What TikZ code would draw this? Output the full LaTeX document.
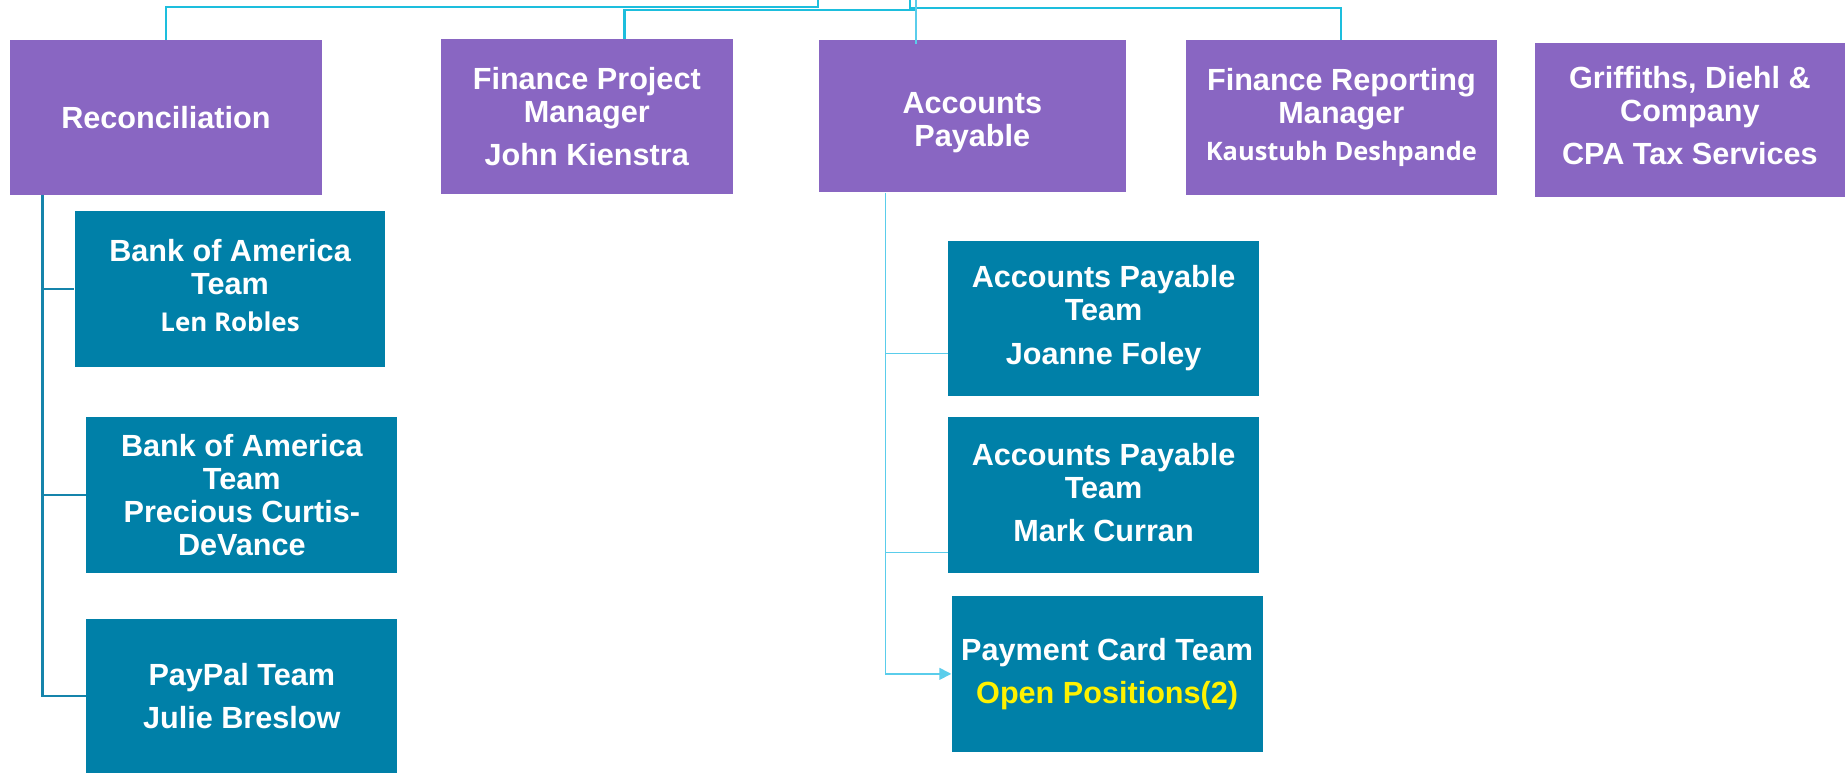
\documentclass[tikz,border=0pt]{standalone}
\usepackage{fontspec}
\setmainfont{Liberation Sans}
\newfontfamily\namefont{Open Sans}
\usetikzlibrary{arrows.meta,positioning}

\definecolor{boxpurple}{RGB}{137,102,194}
\definecolor{boxteal}{RGB}{0,128,168}
\definecolor{linecyan}{RGB}{29,190,221}
\definecolor{linelight}{RGB}{90,205,235}
\definecolor{lineteal}{RGB}{21,132,171}

\begin{document}
\begin{tikzpicture}[x=0.5pt,y=-0.5pt]

\tikzset{purplebox/.style={fill=boxpurple,draw=none,inner sep=0pt,minimum width=132pt,minimum height=65.5pt,shape=rectangle,
  text=white,align=center,font=\bfseries\fontsize{13}{14}\selectfont,anchor=north west},
tealbox/.style={fill=boxteal,draw=none,inner sep=0pt,minimum width=132pt,minimum height=66pt,shape=rectangle,
  text=white,align=center,font=\bfseries\fontsize{13}{14}\selectfont,anchor=north west},
topline/.style={draw=linecyan,line width=0.9pt},
leftline/.style={draw=lineteal,line width=1pt},
midline/.style={draw=linelight,line width=0.7pt},
midarrow/.style={midline,-{Triangle[length=5pt,width=5pt]}}}

\useasboundingbox (0,0) rectangle (1568,656);

% Top row
\node (rec) [purplebox,minimum width=132.5pt] at (8,34) {Reconciliation};
\node (pm) [purplebox,minimum width=124pt] at (374,33) {Finance Project\\Manager\\[4.5pt]John Kienstra};
\node (ap) [purplebox,minimum width=130.5pt,minimum height=64.5pt] at (695,34) {\rule{0pt}{14.4pt}Accounts\\Payable};
\node (frm) [purplebox] at (1007,34) {Finance Reporting\\Manager\\[1.5pt]{\namefont\fontsize{10.8}{14}\selectfont Kaustubh Deshpande}};
\node (gdc) [purplebox] at (1303,36) {Griffiths, Diehl \&\\Company\\[4.5pt]CPA Tax Services\rule[-4pt]{0pt}{0pt}};

% Reconciliation teams
\node (boa1) [tealbox] at (63,179) {Bank of America\\Team\\[1.5pt]{\namefont\fontsize{11}{14}\selectfont Len Robles}\rule[-3pt]{0pt}{0pt}};
\node (boa2) [tealbox] at (73,354) {Bank of America\\Team\\Precious Curtis-\\DeVance};
\node (pp) [tealbox] at (73,525) {PayPal Team\\[4.5pt]Julie Breslow};

% Accounts payable teams
\node (apt1) [tealbox] at (805,204) {Accounts Payable\\Team\\[4.5pt]Joanne Foley};
\node (apt2) [tealbox] at (805,354) {Accounts Payable\\Team\\[4.5pt]Mark Curran\rule[-2pt]{0pt}{0pt}};
\node (pct) [tealbox] at (808,506) {Payment Card Team\\[4.5pt]\textcolor{yellow}{Open Positions(2)}};

% Lines from above
\coordinate (up1) at (695,0);
\coordinate (up2) at (773,0);
\coordinate (up3) at (778,0);
\draw[topline] (up1) -- ++(0,6) -| (rec.north);
\draw[topline] (up3) -- ++(0,8.5) -| ([xshift=16pt]pm.north);
\draw[topline] (up2) -- ++(0,7) -| (frm.north);
\draw[midline] (up3) -- ([yshift=-1.5pt]up3 |- ap.north);

% Reconciliation branches
\coordinate (rtrunk) at ([xshift=14pt]rec.south west);
\foreach \t in {boa1,boa2,pp}
  \draw[leftline] (rtrunk) |- (\t.west);

% Accounts payable branches
\coordinate (atrunk) at ([xshift=28.5pt]ap.south west);
\draw[midline] (atrunk) |- ([yshift=-15pt]apt1.west);
\draw[midline] (atrunk) |- ([yshift=-24.5pt]apt2.west);
\draw[midarrow] (atrunk) |- (pct.west);

\end{tikzpicture}
\end{document}
